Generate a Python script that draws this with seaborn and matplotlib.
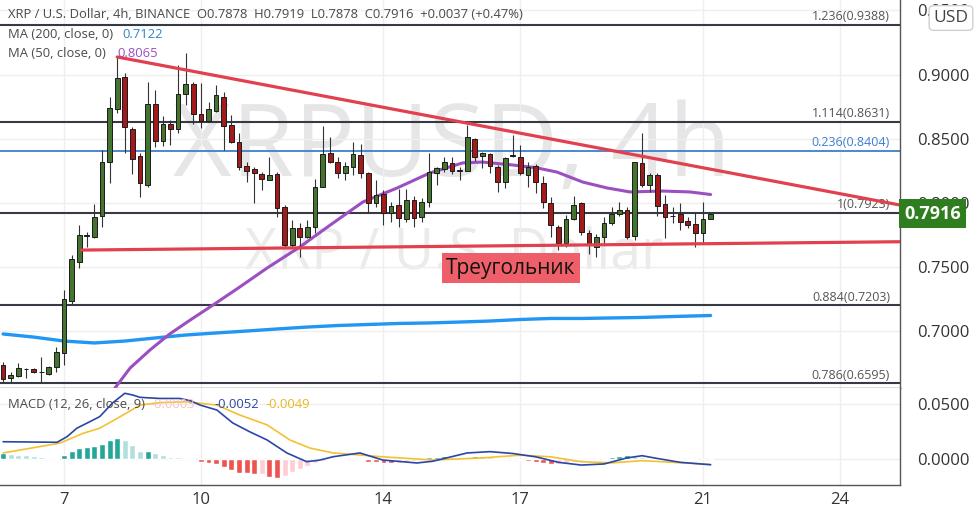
import numpy as np
import pandas as pd
import matplotlib
matplotlib.use("Agg")
import matplotlib.pyplot as plt
import matplotlib.transforms as mtransforms
import seaborn as sns

# ---- candles (4h XRP/USD), index 0 = 5th 16:00
opens = [0.6736, 0.6633, 0.6653, 0.6703, 0.6705, 0.6680, 0.6666, 0.6718, 0.6827, 0.7237,
         0.7541, 0.7744, 0.7736, 0.7897, 0.8321, 0.8729, 0.8983, 0.8576, 0.8365, 0.8139,
         0.8770, 0.8484, 0.8615, 0.8573, 0.8846, 0.8926, 0.8690, 0.8640, 0.8718, 0.8823,
         0.8607, 0.8477, 0.8287, 0.8264, 0.8225, 0.8178, 0.8225, 0.7970, 0.7672, 0.7802,
         0.7731, 0.7814, 0.8126, 0.8391, 0.8321, 0.8235, 0.8282, 0.8373, 0.8230, 0.8001,
         0.8069, 0.7919, 0.7983, 0.7872, 0.8022, 0.7887, 0.8009, 0.8235, 0.8261, 0.8313,
         0.8251, 0.8251, 0.8495, 0.8365, 0.8381, 0.8277, 0.8165, 0.8366, 0.8360, 0.8217,
         0.8290, 0.8152, 0.8001, 0.7814, 0.7685, 0.7872, 0.7996, 0.7767, 0.7658, 0.7736,
         0.7841, 0.7913, 0.7944, 0.7742, 0.8313, 0.8139, 0.8217, 0.7991, 0.7897, 0.7913,
         0.7861, 0.7835, 0.7763, 0.7878]
highs = [0.6756, 0.6684, 0.6754, 0.6711, 0.6715, 0.6801, 0.6728, 0.6879, 0.7321, 0.7594,
         0.7827, 0.7775, 0.7991, 0.8412, 0.8827, 0.9137, 0.9010, 0.8594, 0.8386, 0.8944,
         0.8880, 0.8677, 0.8648, 0.9074, 0.9165, 0.8944, 0.8932, 0.8788, 0.8918, 0.8866,
         0.8685, 0.8542, 0.8321, 0.8282, 0.8243, 0.8360, 0.8243, 0.7983, 0.7866, 0.7845,
         0.7870, 0.8183, 0.8599, 0.8516, 0.8360, 0.8321, 0.8477, 0.8459, 0.8243, 0.8178,
         0.8100, 0.8009, 0.8106, 0.8106, 0.8053, 0.8035, 0.8386, 0.8282, 0.8360, 0.8355,
         0.8277, 0.8607, 0.8508, 0.8399, 0.8391, 0.8295, 0.8360, 0.8529, 0.8451, 0.8321,
         0.8300, 0.8209, 0.8043, 0.7827, 0.7907, 0.8053, 0.8009, 0.7789, 0.7757, 0.7887,
         0.7965, 0.8009, 0.7965, 0.8321, 0.8542, 0.8235, 0.8230, 0.8061, 0.7965, 0.8001,
         0.7887, 0.7931, 0.8009, 0.7919]
lows = [0.6604, 0.6606, 0.6645, 0.6633, 0.6672, 0.6606, 0.6656, 0.6684, 0.6736, 0.7212,
        0.7490, 0.7658, 0.7724, 0.7814, 0.8152, 0.8698, 0.8386, 0.8225, 0.8048, 0.8126,
        0.8438, 0.8446, 0.8451, 0.8547, 0.8763, 0.8615, 0.8581, 0.8632, 0.8710, 0.8412,
        0.8464, 0.8256, 0.8165, 0.7996, 0.8100, 0.8178, 0.7892, 0.7658, 0.7658, 0.7580,
        0.7727, 0.7762, 0.8121, 0.8308, 0.8191, 0.8178, 0.8217, 0.8191, 0.7918, 0.7970,
        0.7827, 0.7853, 0.7809, 0.7853, 0.7814, 0.7853, 0.7970, 0.8139, 0.8243, 0.8225,
        0.8178, 0.8251, 0.8323, 0.8269, 0.8230, 0.8087, 0.8113, 0.8360, 0.8217, 0.8121,
        0.8074, 0.7957, 0.7736, 0.7633, 0.7659, 0.7866, 0.7749, 0.7601, 0.7580, 0.7689,
        0.7827, 0.7897, 0.7718, 0.7711, 0.8126, 0.8087, 0.7897, 0.7724, 0.7841, 0.7788,
        0.7806, 0.7658, 0.7685, 0.7878]
closes = [0.6627, 0.6658, 0.6711, 0.6703, 0.6679, 0.6682, 0.6718, 0.6835, 0.7248, 0.7560,
          0.7749, 0.7748, 0.7887, 0.8316, 0.8737, 0.8971, 0.8589, 0.8339, 0.8152, 0.8770,
          0.8484, 0.8615, 0.8573, 0.8848, 0.8926, 0.8690, 0.8640, 0.8729, 0.8841, 0.8601,
          0.8477, 0.8282, 0.8251, 0.8230, 0.8186, 0.8217, 0.7958, 0.7672, 0.7802, 0.7731,
          0.7810, 0.8121, 0.8381, 0.8321, 0.8230, 0.8287, 0.8381, 0.8230, 0.7996, 0.8061,
          0.7919, 0.7975, 0.7880, 0.8022, 0.7880, 0.8009, 0.8238, 0.8269, 0.8321, 0.8251,
          0.8254, 0.8511, 0.8355, 0.8386, 0.8287, 0.8165, 0.8347, 0.8368, 0.8230, 0.8282,
          0.8160, 0.8009, 0.7827, 0.7685, 0.7872, 0.7983, 0.7775, 0.7672, 0.7736, 0.7845,
          0.7913, 0.7944, 0.7736, 0.8316, 0.8139, 0.8217, 0.7975, 0.7892, 0.7894, 0.7853,
          0.7827, 0.7763, 0.7878, 0.7916]

# ---- moving averages (candle index, price)
ma200_idx = [0, 4, 8, 12, 16, 20, 24, 28, 32, 36, 40, 44, 48, 52, 56, 60, 64, 68, 72, 76, 80, 84, 88, 93]
ma200_val = [0.6978, 0.6954, 0.6923, 0.6908, 0.6923, 0.6947, 0.6970, 0.6986, 0.7001, 0.7017,
             0.7032, 0.7044, 0.7052, 0.7060, 0.7064, 0.7071, 0.7079, 0.7091, 0.7099, 0.7099,
             0.7103, 0.7107, 0.7114, 0.7122]
ma50_idx = [14.7, 16.7, 19.3, 21.9, 24.6, 27.6, 31.1, 34.7, 39, 43, 47.3, 51.8, 56.1, 60.4, 63,
            67, 70.2, 72.8, 76.2, 79.4, 82.4, 86.7, 90.3, 93]
ma50_val = [0.6557, 0.6713, 0.6853, 0.6978, 0.7087, 0.7204, 0.7344, 0.7492, 0.7656, 0.7827,
            0.8007, 0.8116, 0.8233, 0.8311, 0.8318, 0.8295, 0.8272, 0.8240, 0.8162, 0.8116,
            0.8085, 0.8092, 0.8085, 0.8065]

# ---- triangle trend lines
upper_idx = [15, 117.9]
upper_val = [0.9137, 0.7983]
lower_idx = [10.3, 117.9]
lower_val = [0.7632, 0.7697]

# ---- fib levels
fib_levels = [0.9388, 0.8631, 0.8404, 0.7923, 0.7203, 0.6595]
fib_labels = ["1.236(0.9388)", "1.114(0.8631)", "0.236(0.8404)", "1(0.7923)", "0.884(0.7203)", "0.786(0.6595)"]
fib_colors = ["#363a45", "#363a45", "#3d7fd0", "#363a45", "#363a45", "#363a45"]

# ---- MACD
hist = [0.0058, 0.0042, 0.0036, 0.0033, 0.0030, 0.0021, 0.0012, 0.0009, 0.0036, 0.0073,
        0.0097, 0.0106, 0.0121, 0.0136, 0.0173, 0.0188, 0.0173, 0.0127, 0.0073, 0.0073,
        0.0051, 0.0036, 0.0021, 0.0018, 0.0012, -0.0003, -0.0024, -0.0039, -0.0045, -0.0070,
        -0.0100, -0.0124, -0.0130, -0.0136, -0.0136, -0.0160, -0.0170, -0.0150, -0.0120, -0.0090,
        -0.0060, -0.0040, -0.0020, -0.0010, -0.0005, -0.0003, -0.0002, -0.0010, -0.0025, -0.0030,
        -0.0035, -0.0040, -0.0035, -0.0030, -0.0015, 0.0005, 0.0015, 0.0020, 0.0025, 0.0022,
        0.0018, 0.0020, 0.0030, 0.0025, 0.0018, 0.0010, 0.0002, 0.0003, -0.0005, -0.0015,
        -0.0025, -0.0035, -0.0045, -0.0045, -0.0040, -0.0030, -0.0020, -0.0010, 0.0000, 0.0010,
        0.0015, 0.0025, 0.0035, 0.0025, 0.0015, 0.0005, -0.0005, -0.0010, -0.0012, -0.0010,
        -0.0008, -0.0006, -0.0004, -0.0003]
macd_idx = [0, 7.1, 8.4, 9.7, 11.4, 12.7, 14.4, 16, 17.1, 18, 20.6, 23.2, 24.6, 25.9, 28.1,
            30.2, 32.4, 34.7, 37.3, 39.9, 41.6, 43.4, 46.9, 49.9, 54.4, 56.5, 61, 64, 67, 70,
            73, 76, 79, 82, 84, 86, 89, 93]
macd_val = [0.0157, 0.0152, 0.0203, 0.0280, 0.0339, 0.0385, 0.0510, 0.0597, 0.0580, 0.0560,
            0.0550, 0.0550, 0.0530, 0.0490, 0.0445, 0.0327, 0.0248, 0.0173, 0.0055, -0.0024,
            -0.0010, 0.0021, 0.0055, -0.0009, -0.0036, -0.0020, 0.0055, 0.0067, 0.0050, 0.0020,
            -0.0030, -0.0055, -0.0045, 0.0010, 0.0030, 0.0005, -0.0030, -0.0052]
signal_idx = [0, 7.5, 10.5, 12.7, 15.4, 18, 20.6, 24, 28.1, 31.1, 34.7, 37.7, 40.3, 43.4,
              49.9, 56.5, 63, 68, 72, 76, 80, 84, 88, 93]
signal_val = [0.0055, 0.0145, 0.0233, 0.0280, 0.0385, 0.0490, 0.0512, 0.0520, 0.0490, 0.0400,
              0.0310, 0.0173, 0.0100, 0.0055, 0.0020, -0.0009, 0.0010, 0.0035, 0.0020, -0.0025,
              -0.0035, -0.0015, -0.0030, -0.0049]

date_idx = [8, 26, 50, 68, 92, 110]
date_labels = ["7", "10", "14", "17", "21", "24"]
price_ticks = [0.70, 0.75, 0.80, 0.85, 0.90, 0.95]
macd_ticks = [0.0, 0.05]

sns.set_theme(style="white")
plt.rcParams['font.family'] = ['Open Sans', 'DejaVu Sans']

df = pd.DataFrame({"o": opens, "h": highs, "l": lows, "c": closes})
df["i"] = np.arange(len(df))

W, H = 980, 512
fig = plt.figure(figsize=(W / 100, H / 100), dpi=100)
ax = fig.add_axes([0, (H - 388) / H, 900 / W, 388 / H])
axm = fig.add_axes([0, (H - 485) / H, 900 / W, 97 / H])
blend = mtransforms.blended_transform_factory(ax.transAxes, ax.transData)

xlim = (-0.41, 117.9)
for a in (ax, axm):
    a.set_xlim(*xlim)
    a.set_xticks(date_idx)
    a.grid(True, color="#efefef", lw=1)
    a.set_axisbelow(True)
    a.yaxis.tick_right()
    a.tick_params(axis="both", length=0, labelsize=12, labelcolor="#333333")
    for s in ("top", "left"):
        a.spines[s].set_visible(False)
    for s in ("right", "bottom"):
        a.spines[s].set_color("#555555")
        a.spines[s].set_linewidth(1)
ax.tick_params(axis="x", labelbottom=False)
ax.tick_params(axis="y", pad=12)
axm.tick_params(axis="y", pad=12)
axm.tick_params(axis="x", pad=5)

ax.set_ylim(0.6557, 0.9581)
ax.set_yticks(price_ticks)
ax.set_yticklabels([f"{v:.4f}" for v in price_ticks])

# watermark
ax.text(0.502, 0.615, "XRPUSD, 4h", transform=ax.transAxes, ha="center", va="center",
        fontsize=73, color="#e6e6e6", zorder=0)
ax.text(0.505, 0.345, "XRP / U.S. Dollar", transform=ax.transAxes, ha="center", va="center",
        fontsize=40, color="#ebebeb", zorder=0)

# fib levels
for lev, lab, col in zip(fib_levels, fib_labels, fib_colors):
    ax.axhline(lev, color=col, lw=1.5 if col != "#3d7fd0" else 1.3, zorder=2)
    ax.text(890 / 900, lev + 0.0012, lab, transform=blend, ha="right", va="bottom", fontsize=9,
            color="#555555" if col != "#3d7fd0" else col, zorder=6)

# moving averages
sns.lineplot(x=ma200_idx, y=ma200_val, ax=ax, color="#2196f3", lw=2.4, zorder=3)
sns.lineplot(x=ma50_idx, y=ma50_val, ax=ax, color="#9c4fc0", lw=2.2, zorder=3)

# candles
up = df["c"] >= df["o"]
ax.vlines(df["i"], df["l"], df["h"], color="#333333", lw=0.8, zorder=4)
body_h = np.maximum((df["c"] - df["o"]).abs(), 0.0004)
ax.bar(df["i"], body_h, bottom=np.minimum(df["o"], df["c"]), width=0.62,
       color=np.where(up, "#457330", "#a31a1a"), edgecolor="#1b1b1b", linewidth=0.7, zorder=5)

# triangle
sns.lineplot(x=upper_idx, y=upper_val, ax=ax, color="#e2404f", lw=2.3, zorder=6)
sns.lineplot(x=lower_idx, y=lower_val, ax=ax, color="#e2404f", lw=2.3, zorder=6)
ax.text(66.75, 0.7492, "Треугольник", ha="center", va="center", fontsize=15, color="#111111",
        zorder=7, bbox=dict(boxstyle="square,pad=0.22", fc="#ef5f69", ec="none"))

# headers
ax.text(8 / 900, 1 - 18 / 388, "XRP / U.S. Dollar, 4h, BINANCE  O0.7878  H0.7919  L0.7878  C0.7916  +0.0037 (+0.47%)",
        transform=ax.transAxes, fontsize=9.4, color="#4a4a4a", va="baseline", zorder=8)
ax.text(8 / 900, 1 - 38 / 388, "MA (200, close, 0)", transform=ax.transAxes, fontsize=9.4,
        color="#4a4a4a", va="baseline", zorder=8)
ax.text(122 / 900, 1 - 38 / 388, "0.7122", transform=ax.transAxes, fontsize=9.4,
        color="#2e86c8", va="baseline", zorder=8)
ax.text(8 / 900, 1 - 57 / 388, "MA (50, close, 0)", transform=ax.transAxes, fontsize=9.4,
        color="#4a4a4a", va="baseline", zorder=8)
ax.text(117 / 900, 1 - 57 / 388, "0.8065", transform=ax.transAxes, fontsize=9.4,
        color="#9c4fc0", va="baseline", zorder=8)

# price box and USD box
ax.text(1.0 + 4 / 900, 0.7916, "0.7916", transform=blend, ha="left", va="center", fontsize=13,
        fontweight="bold", color="white", zorder=9, clip_on=False,
        bbox=dict(boxstyle="square,pad=0.3", fc="#2e7d1f", ec="none"))
fig.text(951 / W, 1 - 18 / H, "USD", ha="center", va="center", fontsize=12.5, color="#444444", zorder=10,
         bbox=dict(boxstyle="round,pad=0.25", fc="white", ec="#d0d0d0"))

# MACD pane
axm.set_ylim(-0.0236, 0.0645)
axm.set_yticks(macd_ticks)
axm.set_yticklabels([f"{v:.4f}" for v in macd_ticks])
axm.set_xticklabels(date_labels)
h = np.array(hist)
prev = np.concatenate([[h[0]], h[:-1]])
cols = np.where(h >= 0, np.where(h >= prev, "#26a69a", "#b2dfdb"), np.where(h < prev, "#ef5350", "#ffcdd2"))
axm.bar(np.arange(len(h)), h, width=0.78, color=cols, zorder=2)
sns.lineplot(x=signal_idx, y=signal_val, ax=axm, color="#f2c230", lw=1.2, zorder=3)
sns.lineplot(x=macd_idx, y=macd_val, ax=axm, color="#2a46a8", lw=1.2, zorder=4)
axm.text(8 / 900, 1 - 20 / 97, "MACD (12, 26, close, 9)", transform=axm.transAxes, fontsize=9.4,
         color="#4a4a4a", va="baseline", zorder=8)
for xp, txt, col in [(150, "-0.0003", "#f7c2cc"), (214, "-0.0052", "#2a46a8"), (265, "-0.0049", "#e8b820")]:
    axm.text(xp / 900, 1 - 20 / 97, txt, transform=axm.transAxes, fontsize=9.4, color=col,
             va="baseline", zorder=8)

fig.savefig("out.png", dpi=100)
